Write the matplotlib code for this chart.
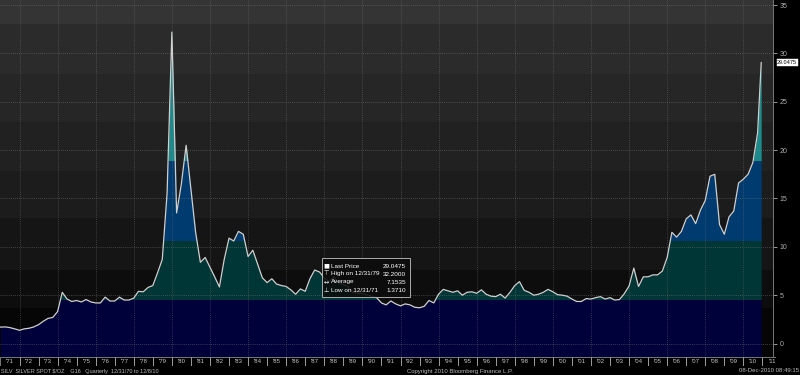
import numpy as np
import pandas as pd
import matplotlib
matplotlib.use('Agg')
import matplotlib.pyplot as plt
from matplotlib.patches import Rectangle

plt.rcParams['font.family'] = ['Liberation Sans', 'DejaVu Sans']

# ---------------- data ----------------
quarter_ends = list(pd.date_range('1970-12-31', '2010-09-30', freq='QE'))
dates = quarter_ends + [pd.Timestamp('2010-12-08')]

prices = [
    1.70,                       # 1970 Q4
    1.72, 1.65, 1.52, 1.371,    # 1971
    1.52, 1.58, 1.72, 1.95,     # 1972
    2.30, 2.60, 2.70, 3.30,     # 1973
    5.30, 4.60, 4.35, 4.45,     # 1974
    4.30, 4.55, 4.30, 4.20,     # 1975
    4.20, 4.80, 4.40, 4.40,     # 1976
    4.80, 4.50, 4.50, 4.70,     # 1977
    5.40, 5.35, 5.80, 6.00,     # 1978
    7.30, 8.70, 15.5, 32.20,    # 1979
    13.5, 16.5, 20.5, 16.0,     # 1980
    11.5, 8.40, 8.90, 7.90,     # 1981
    6.90, 5.85, 8.70, 10.9,     # 1982
    10.6, 11.6, 11.3, 9.00,     # 1983
    9.65, 8.25, 6.80, 6.30,     # 1984
    6.70, 6.15, 6.00, 5.90,     # 1985
    5.55, 5.10, 5.65, 5.40,     # 1986
    6.70, 7.60, 7.40, 6.80,     # 1987
    6.40, 6.90, 6.30, 6.10,     # 1988
    5.90, 5.30, 5.20, 5.20,     # 1989
    5.00, 4.90, 4.75, 4.20,     # 1990
    4.00, 4.40, 4.10, 3.90,     # 1991
    4.10, 4.00, 3.75, 3.70,     # 1992
    3.85, 4.45, 4.20, 5.10,     # 1993
    5.60, 5.45, 5.30, 5.45,     # 1994
    5.00, 5.30, 5.35, 5.20,     # 1995
    5.55, 5.10, 4.90, 4.85,     # 1996
    5.10, 4.70, 5.30, 6.00,     # 1997
    6.40, 5.50, 5.30, 5.00,     # 1998
    5.10, 5.30, 5.60, 5.35,     # 1999
    5.05, 5.00, 4.90, 4.60,     # 2000
    4.35, 4.35, 4.65, 4.60,     # 2001
    4.75, 4.85, 4.60, 4.75,     # 2002
    4.50, 4.55, 5.15, 5.95,     # 2003
    7.80, 5.90, 6.90, 6.90,     # 2004
    7.10, 7.10, 7.50, 8.90,     # 2005
    11.5, 11.0, 11.6, 12.9,     # 2006
    13.3, 12.4, 13.8, 14.8,     # 2007
    17.3, 17.5, 12.3, 11.3,     # 2008
    13.1, 13.7, 16.6, 17.0,     # 2009
    17.5, 18.7, 21.8, 29.0475,  # 2010
]

band_levels = [4.6, 10.7, 19.0]
band_colors = ['#00003a', '#003636', '#003b6f', '#1c8a8a']

year_labels = ["'%02d" % (y % 100) for y in range(1971, 2012)]
ytick_values = [0, 5, 10, 15, 20, 25, 30, 35]

legend_rows = [
    ('Last Price', '29.0475'),
    ('High on 12/31/79', '32.2000'),
    ('Average', '7.1535'),
    ('Low on 12/31/71', '1.3710'),
]
last_price_label = '29.0475'

# ---------------- helpers ----------------
def dec_year(ts):
    start = pd.Timestamp(year=ts.year, month=1, day=1)
    end = pd.Timestamp(year=ts.year + 1, month=1, day=1)
    return ts.year + (ts - start) / (end - start)

x = np.array([dec_year(d) for d in dates])
y = np.array(prices)

W, H = 800, 375
fig = plt.figure(figsize=(W / 100, H / 100), dpi=100, facecolor='black')

def fx(px):
    return px / W

def fy(py):
    return 1 - py / H

px_per_year = 19.05
x0 = 1970.975
plot_right_px = 773
xmax = x0 + plot_right_px / px_per_year
ymin, ymax = -1.39, 35.52

ax = fig.add_axes([0, fy(357), fx(plot_right_px), 357 / H])
ax.set_xlim(x0, xmax)
ax.set_ylim(ymin, ymax)
ax.set_facecolor('black')

# background horizontal bands (px boundaries -> data)
def val_from_py(py):
    return (343.5 - py) / 9.7

bg_px = [357, 308, 270, 218, 170, 121, 73, 23, 0]
bg_cols = ['#060606', '#0d0d0d', '#151515', '#1c1c1c', '#212121', '#262626', '#2b2b2b', '#343434']
for i in range(len(bg_cols)):
    lo = ymin if i == 0 else val_from_py(bg_px[i])
    hi = ymax if i == len(bg_cols) - 1 else val_from_py(bg_px[i + 1])
    ax.axhspan(lo, hi, color=bg_cols[i], lw=0, zorder=0)

# coloured bands under the curve
edges = [ymin] + band_levels + [ymax]
for i, col in enumerate(band_colors):
    lo, hi = edges[i], edges[i + 1]
    poly = ax.fill_between(x, ymin, y, color=col, lw=0, zorder=1)
    clip = Rectangle((x[0] - 0.5, lo), x[-1] - x[0] + 1, hi - lo, transform=ax.transData)
    poly.set_clip_path(clip)

# grid
for yr in range(1972, 2012, 2):
    ax.axvline(yr, color='#707070', lw=0.6, ls=(0, (1, 1.5)), alpha=0.6, zorder=2)
for v in ytick_values:
    ax.axhline(v, color='#808080', lw=0.6, ls=(0, (1, 1.5)), alpha=0.6, zorder=2)

# price line
ax.plot(x, y, color='#cfcfcf', lw=0.9, zorder=3)

# axes styling
for s in ['top', 'left', 'bottom']:
    ax.spines[s].set_visible(False)
ax.spines['right'].set_color('#8a8a8a')
ax.spines['right'].set_linewidth(0.6)
ax.set_xticks([])
ax.yaxis.tick_right()
ax.set_yticks(ytick_values)
ax.set_yticklabels([str(v) for v in ytick_values])
ax.tick_params(axis='y', colors='#b0b0b0', labelsize=5, length=3, width=0.6, pad=1.5)

# last price tag
ax.annotate(last_price_label, xy=(1.0, y[-1]), xycoords=('axes fraction', 'data'),
            xytext=(3, 0), textcoords='offset points', fontsize=4.0, color='black',
            va='center', ha='left',
            bbox=dict(boxstyle='square,pad=0.12', fc='white', ec='white', lw=0.3),
            zorder=10, annotation_clip=False)

# legend box
lx0, lx1, ly0, ly1 = 322, 410, 258, 297
fig.patches.append(Rectangle((fx(lx0), fy(ly1)), fx(lx1 - lx0), (ly1 - ly0) / H,
                             transform=fig.transFigure, facecolor='#0c0c0c', alpha=0.88,
                             edgecolor='#c0c0c0', lw=0.7, zorder=5))
row_py = [266, 274, 282, 290]
icons = ['\u25A0', '\u22A4', '\u2194', '\u22A5']
for (lab, val), py, ic in zip(legend_rows, row_py, icons):
    fig.text(fx(326.5), fy(py), ic, color='white', fontsize=4.5, ha='center', va='center',
             zorder=6, family=['DejaVu Sans'])
    fig.text(fx(331), fy(py), lab, color='white', fontsize=4.6, ha='left', va='center', zorder=6)
    fig.text(fx(406), fy(py), val, color='white', fontsize=4.6, ha='right', va='center', zorder=6)

# x label band
ax2 = fig.add_axes([0, fy(366), fx(plot_right_px + 3), 9 / H])
ax2.set_xlim(x0, x0 + (plot_right_px + 3) / px_per_year)
ax2.set_ylim(0, 1)
ax2.axis('off')
ax2.add_patch(Rectangle((x0, 0), 100, 1, facecolor='black', edgecolor='none'))
for i, lab in enumerate(year_labels):
    yr = 1971 + i
    ax2.add_patch(Rectangle((yr, 0.04), 1, 0.92, fill=False, edgecolor='#a8a8a8', lw=0.5))
    ax2.text(yr + 0.5, 0.45, lab, color='#c8c8c8', fontsize=4.3, ha='center', va='center',
             clip_on=True)

# footer texts
fig.text(fx(1), fy(371), 'SILV  SILVER SPOT $/OZ    G16   Quarterly  12/31/70 to 12/8/10',
         color='#bcbcbc', fontsize=4.0, ha='left', va='center')
fig.text(fx(407), fy(371), 'Copyright 2010 Bloomberg Finance L.P.',
         color='#bcbcbc', fontsize=4.3, ha='left', va='center')
fig.text(fx(799), fy(371), '08-Dec-2010 08:49:15',
         color='#bcbcbc', fontsize=4.3, ha='right', va='center')

fig.savefig('out.png', dpi=100, facecolor='black')
